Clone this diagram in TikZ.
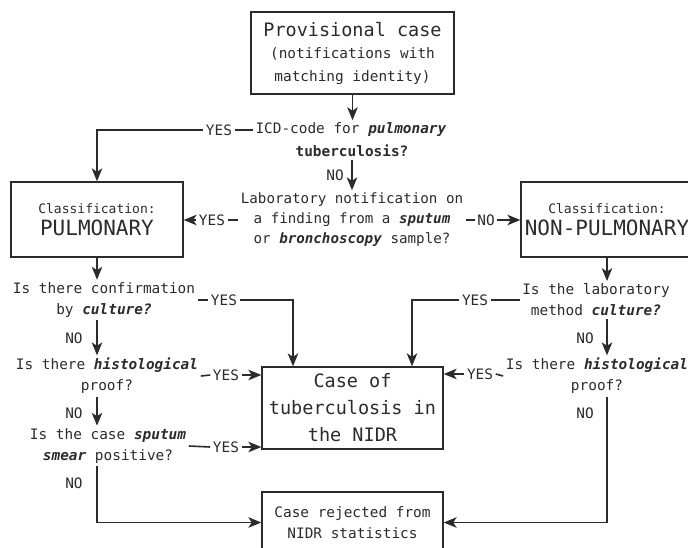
\documentclass[tikz,border=0pt]{standalone}
\usepackage{fontspec}
\setmainfont{DejaVu Sans Mono}
\usetikzlibrary{arrows.meta,positioning}
\definecolor{ink}{HTML}{2B2B2B}
\newcommand{\qfont}{\fontsize{14.4}{21}\selectfont}
\newcommand{\bigfont}{\fontsize{18.5}{27}\selectfont}
\newcommand{\pulfont}{\fontsize{21}{22}\selectfont}
\newcommand{\boldit}[1]{\textbf{\textit{#1}}}

\begin{document}
\begin{tikzpicture}[x=1pt, y=-1pt, color=ink, line width=1.6pt,
    box/.style={draw, line width=1.3pt, align=center, inner sep=0pt},
    quest/.style={align=center, inner sep=2pt, font=\qfont},
    yn/.style={inner sep=2pt, font=\qfont},
    arr/.style={-{Stealth[length=13pt,width=10.5pt,inset=3.5pt]}}]
	  \useasboundingbox (0,0) rectangle (688,547);
	  % boxes
	  \node[box, minimum width=203, minimum height=82, font=\fontsize{14.4}{22.5}\selectfont] (prov) at (352.5,53)
	    {{\bigfont Provisional case}\\(notifications with\\matching identity)};
	  \node[box, minimum width=172, minimum height=75, font=\fontsize{13}{22.5}\selectfont] (pul) at (97,219.5)
	    {Classification:\\{\pulfont PULMONARY}};
	  \node[box, minimum width=172, minimum height=75, font=\fontsize{13}{22.5}\selectfont] (nonpul) at (607,219.5)
	    {Classification:\\{\pulfont NON-PULMONARY}};
	  \node[box, minimum width=181, minimum height=82, font=\bigfont] (case) at (352.5,408)
	    {Case of\\tuberculosis in\\the NIDR};
	  \node[box, minimum width=181, minimum height=61, font=\qfont] (rej) at (352.5,522.5)
	    {Case rejected from\\NIDR statistics};
	  % questions
	  \node[quest] (q1a) at (351,130) {ICD-code for \boldit{pulmonary}};
	  \node[quest] (q1b) at (352,151) {\textbf{tuberculosis?}};
	  \node[quest, font=\fontsize{14.2}{20}\selectfont] (q2) at (352,220)
	    {Laboratory notification on\\a finding from a \boldit{sputum}\\or \boldit{bronchoscopy} sample?};
	  \node[quest] (qcul) at (104,300) {Is there confirmation\\by \boldit{culture?}};
	  \node[quest] (qhis) at (107,376) {Is there \boldit{histological}\\proof?};
	  \node[quest] (qsme) at (108,446) {Is the case \boldit{sputum}\\\boldit{smear} positive?};
	  \node[quest] (qlab) at (596,300) {Is the laboratory\\method \boldit{culture?}};
	  \node[quest] (qrhis) at (597,376) {Is there \boldit{histological}\\proof?};
	  % yes / no labels
	  \node[yn] (yes1) at (219,130) {YES};
	  \node[yn] (no1) at (335,175) {NO};
	  \node[yn] (yes2) at (212,220) {YES};
	  \node[yn] (no2) at (486,220) {NO};
	  \node[yn] (yes3) at (224,300) {YES};
	  \node[yn] (no3) at (74,338) {NO};
	  \node[yn] (yes4) at (226,375) {YES};
	  \node[yn] (no4) at (74,413) {NO};
	  \node[yn] (yes5) at (226,447) {YES};
	  \node[yn] (no5) at (74,483) {NO};
	  \node[yn] (yes6) at (475,300) {YES};
	  \node[yn] (no6) at (585,338) {NO};
	  \node[yn] (yes7) at (480,374) {YES};
	  \node[yn] (no7) at (585,413) {NO};
	  \coordinate (caseL) at ([xshift=-59.5pt]case.north);
	  \coordinate (caseR) at ([xshift=59.5pt]case.north);
	  % connectors
	  \draw[arr] (prov.south) -- (prov.south |- q1a.north);
	  \draw (q1a.west) -- (yes1.east);
	  \draw[arr] (yes1.west) -| (pul.north);
	  \draw[arr] (q1b.south) -- (q1b.south |- q2.north);
	  \draw (q2.west) -- (yes2.east);
	  \draw[arr] (yes2.west) -- (yes2 -| pul.east);
	  \draw (q2.east) -- (no2.west);
	  \draw[arr] (no2.east) -- (no2 -| nonpul.west);
	  \draw[arr] (pul.south) -- (pul.south |- qcul.north);
	  \draw[arr] (qcul.south -| pul.south) -- (qhis.north -| pul.south);
	  \draw[arr] (qhis.south -| pul.south) -- (qsme.north -| pul.south);
	  \draw[arr] (qsme.south -| pul.south) |- (rej.west);
	  \draw (qcul.east) -- (yes3.west);
	  \draw[arr] (yes3.east) -| (caseL);
	  \draw (qhis.east) -- (yes4.west);
	  \draw[arr] (yes4.east) -- (yes4 -| case.west);
	  \draw (qsme.east) -- (yes5.west);
	  \draw[arr] (yes5.east) -- (yes5 -| case.west);
	  \draw[arr] (nonpul.south) -- (nonpul.south |- qlab.north);
	  \draw[arr] (qlab.south -| nonpul.south) -- (qrhis.north -| nonpul.south);
	  \draw[arr] (qrhis.south -| nonpul.south) |- (rej.east);
	  \draw (qlab.west) -- (yes6.east);
	  \draw[arr] (yes6.west) -| (caseR);
	  \draw (qrhis.west) -- (yes7.east);
	  \draw[arr] (yes7.west) -- (yes7 -| case.east);
	\end{tikzpicture}
\end{document}
